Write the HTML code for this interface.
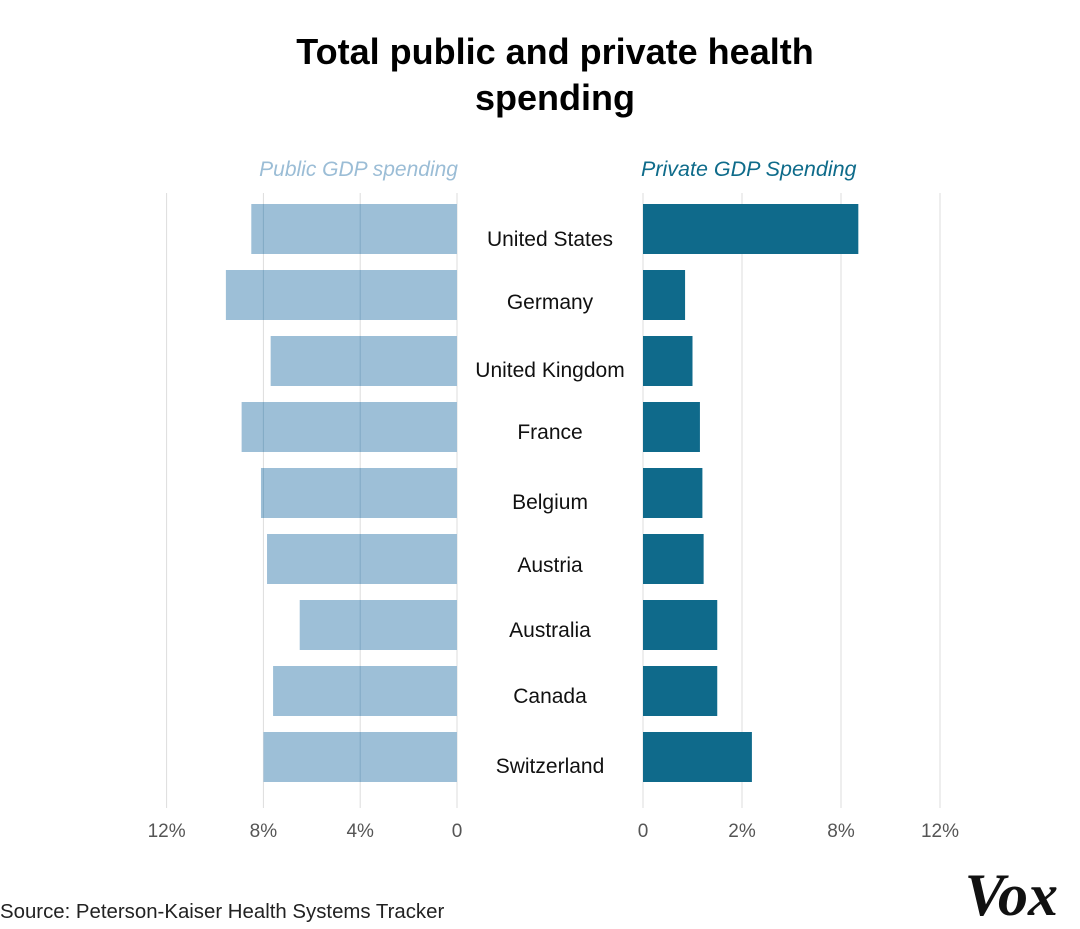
<!DOCTYPE html>
<html><head><meta charset="utf-8"><style>
body{margin:0;background:#fff;width:1080px;height:924px;overflow:hidden;font-family:"Liberation Sans",sans-serif;}
</style></head><body>
<svg id="chart" width="1080" height="924" xmlns="http://www.w3.org/2000/svg">
<text x="555" y="64" text-anchor="middle" font-size="36" font-weight="bold" fill="#000">Total public and private health</text>
<text x="555" y="110" text-anchor="middle" font-size="36" font-weight="bold" fill="#000">spending</text>
<text x="458" y="176" text-anchor="end" font-size="21" font-style="italic" fill="#9bbdd6">Public GDP spending</text>
<text x="641" y="176" font-size="21.5" font-style="italic" fill="#0e6b8a">Private GDP Spending</text>
<g id="grid"></g><g id="bars"></g><g id="gridover"></g><g id="labels"></g><g id="ticks"></g>
<text x="0" y="918" font-size="20.4" fill="#222">Source: Peterson-Kaiser Health Systems Tracker</text>
<text x="1058" y="915" text-anchor="end" font-size="60" font-weight="bold" font-style="italic" font-family="Liberation Serif, serif" fill="#111">Vox</text>
</svg>
<script>
const countries=["United States","Germany","United Kingdom","France","Belgium","Austria","Australia","Canada","Switzerland"];
const publicVals=[8.5,9.55,7.7,8.9,8.1,7.85,6.5,7.6,8.0];
const privateVals=[8.7,1.7,2.0,2.3,2.4,2.45,3.0,3.0,4.4];
const leftTickVals=[12,8,4,0];
const leftTickLabels=["12%","8%","4%","0"];
const rightTickVals=[0,4,8,12];
const rightTickLabels=["0","2%","8%","12%"];
const NS="http://www.w3.org/2000/svg";
const xL=v=>457-v*24.2, xR=v=>643+v*24.75;
const rowY=i=>204+i*66, bh=50;
const labelOff=[35,32,34,30,34,31,30,30,34];
function mk(t,a,p){const e=document.createElementNS(NS,t);for(const k in a)e.setAttribute(k,a[k]);p.appendChild(e);return e;}
const grid=document.getElementById('grid'),bars=document.getElementById('bars'),gridover=document.getElementById('gridover'),labels=document.getElementById('labels'),ticks=document.getElementById('ticks');
leftTickVals.forEach((v,i)=>{
 const l=mk('line',{x1:xL(v),x2:xL(v),y1:193,y2:808,stroke:'#ddd','stroke-width':1},grid);
 
 
 const t=mk('text',{x:xL(v),y:837,'text-anchor':'middle','font-size':19,fill:'#555'},ticks);t.textContent=leftTickLabels[i];
 
 
});
rightTickVals.forEach((v,i)=>{
 const l=mk('line',{x1:xR(v),x2:xR(v),y1:193,y2:808,stroke:'#ddd','stroke-width':1},grid);
 
 
 const t=mk('text',{x:xR(v),y:837,'text-anchor':'middle','font-size':19,fill:'#555'},ticks);t.textContent=rightTickLabels[i];
 
 
});
countries.forEach((c,i)=>{
 const y=rowY(i);
 const b1=mk('rect',{x:xL(publicVals[i]),y:y,width:xL(0)-xL(publicVals[i]),height:bh,fill:'#9dbfd7'},bars);
 
 
 leftTickVals.forEach(v=>{
  if(v>0 && v<publicVals[i]){
   const o=mk('line',{x1:xL(v),x2:xL(v),y1:y,y2:y+bh,stroke:'#5f8fae','stroke-opacity':0.45,'stroke-width':1},gridover);
   
   
  }
 });
 const b2=mk('rect',{x:xR(0),y:y,width:xR(privateVals[i])-xR(0),height:bh,fill:'#0f6a8b'},bars);
 
 
 const t=mk('text',{x:550,y:y+labelOff[i]+7,'text-anchor':'middle','font-size':21,fill:'#111'},labels);t.textContent=c;
 
 
});
</script>
</body></html>
